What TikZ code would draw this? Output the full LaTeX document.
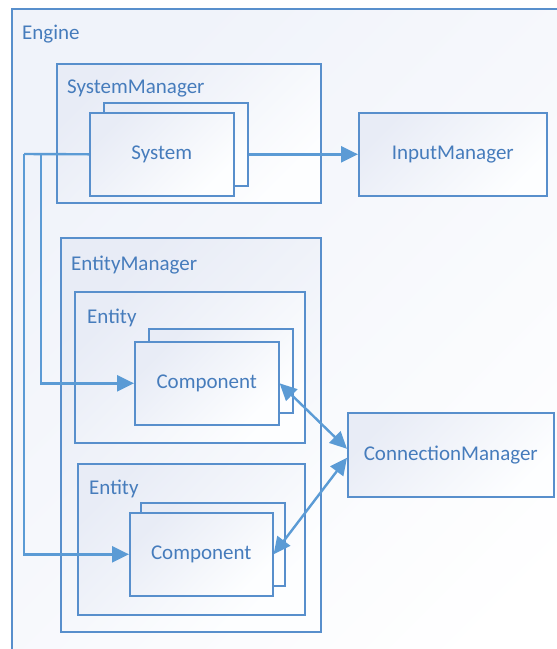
\documentclass[tikz,border=0pt]{standalone}
\usepackage{fontspec}
\setmainfont{Carlito}
\usetikzlibrary{arrows.meta}
\definecolor{frame}{RGB}{88,143,204}
\definecolor{wire}{RGB}{91,155,213}
\definecolor{label}{RGB}{70,124,188}
\definecolor{shadeA}{RGB}{232,236,246}
\definecolor{shadeB}{RGB}{253,254,255}
\definecolor{shadeC}{RGB}{240,243,250}
\tikzset{
  box/.style={draw=frame, line width=1.6pt, top color=shadeA, bottom color=shadeB,
    shading angle=45, inner sep=0pt, anchor=north west,
    font=\fontsize{21}{25}\selectfont, text=label},
  caption/.style={anchor=base west, inner sep=0pt, font=\fontsize{21}{25}\selectfont, text=label},
  wirestyle/.style={draw=wire, line width=2.4pt},
  tip/.style={-{Triangle[length=17pt,width=16pt]}},
  tips/.style={{Triangle[length=17pt,width=16pt]}-{Triangle[length=17pt,width=16pt]}},
}
\begin{document}
\begin{tikzpicture}[x=1pt,y=-1pt]
\useasboundingbox (0,0) rectangle (557,649);
\clip (0,0) rectangle (557,649);
\fill[white] (0,0) rectangle (557,649);

% outer engine frame, running past the page edges
\node[box, top color=shadeC, bottom color=white, shading angle=45,
  minimum width=600pt, minimum height=700pt] (engine) at (11,8) {};
\node[caption] (engineLbl) at (22,39) {Engine};

% system manager with its stacked systems
\node[box, minimum width=264pt, minimum height=139pt] (sysmgr) at (56,63) {};
\node[caption] (sysmgrLbl) at (67,93) {SystemManager};
\node[box, minimum width=144pt, minimum height=83pt] (sysback) at (103,102) {};
\node[box, minimum width=144pt, minimum height=83pt] (sysfront) at (89,112) {System};

% input manager
\node[box, minimum width=188pt, minimum height=83pt] (input) at (358,112) {InputManager};

% entity manager
\node[box, minimum width=260pt, minimum height=394pt] (entmgr) at (60,237) {};
\node[caption] (entmgrLbl) at (71,270) {EntityManager};

% first entity
\node[box, minimum width=230pt, minimum height=151pt] (ent1) at (74,291) {};
\node[caption] (ent1Lbl) at (87,323) {Entity};
\node[box, minimum width=144pt, minimum height=84pt] (comp1back) at (148,328) {};
\node[box, minimum width=144pt, minimum height=83pt] (comp1) at (134,341) {Component};

% second entity
\node[box, minimum width=227pt, minimum height=151pt] (ent2) at (77,463) {};
\node[caption] (ent2Lbl) at (89,494) {Entity};
\node[box, minimum width=144pt, minimum height=83pt] (comp2back) at (140,502) {};
\node[box, minimum width=143pt, minimum height=83pt] (comp2) at (129,512) {Component};

% connection manager
\node[box, minimum width=206pt, minimum height=84pt] (conn) at (347,412) {ConnectionManager};

% connectors
\coordinate (busA) at (41,154);
\coordinate (busB) at (24,154);
\coordinate (sysOut) at (sysfront.center -| sysback.east);
\coordinate (connA) at ([yshift=6pt]conn.west);
\coordinate (connB) at ([yshift=-3pt]conn.west);

\draw[wirestyle, tip] (sysOut) -- (input.west);
\draw[wirestyle] (sysfront.west) -- (busB);
\draw[wirestyle, tip] (busA) |- (comp1.west);
\draw[wirestyle, tip] (busB) |- (comp2.west);
\draw[wirestyle, tips] (comp1.east) -- (connA);
\draw[wirestyle, tips] (comp2.east) -- (connB);
\end{tikzpicture}
\end{document}
